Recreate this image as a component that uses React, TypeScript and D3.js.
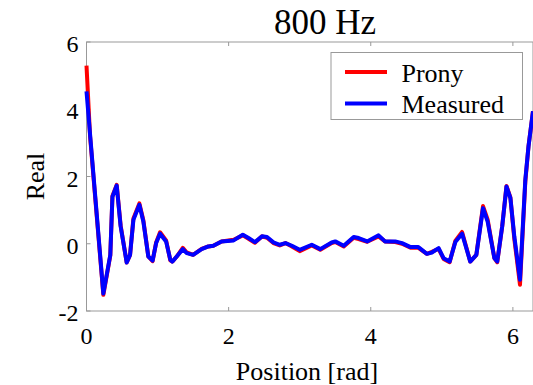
import React from "react";
import * as d3 from "d3";

const positions = [
  0.0, 0.05, 0.237, 0.335, 0.365, 0.425, 0.48, 0.566, 0.613, 0.66, 0.744, 0.8, 0.87, 0.93, 0.98,
  1.035, 1.12, 1.18, 1.21, 1.27, 1.355, 1.41, 1.5, 1.62, 1.715, 1.785, 1.9, 2.07, 2.2, 2.28,
  2.37, 2.47, 2.54, 2.63, 2.72, 2.8, 2.89, 3.0, 3.17, 3.29, 3.45, 3.5, 3.62, 3.76, 3.83, 3.95,
  4.11, 4.2, 4.345, 4.44, 4.56, 4.67, 4.79, 4.86, 4.955, 5.025, 5.11, 5.19, 5.285, 5.4, 5.486,
  5.58, 5.645, 5.74, 5.78, 5.85, 5.91, 5.965, 6.02, 6.1, 6.175, 6.22, 6.283,
];

const measured = [
  4.53, 3.26, -1.48, -0.33, 1.4, 1.73, 0.52, -0.56, -0.33, 0.71, 1.16, 0.66, -0.38, -0.5, 0.02,
  0.3, 0.07, -0.48, -0.53, -0.38, -0.16, -0.28, -0.33, -0.16, -0.08, -0.06, 0.07, 0.1, 0.27, 0.17,
  0.05, 0.22, 0.2, 0.04, -0.03, 0.02, -0.06, -0.18, -0.03, -0.16, 0.04, 0.07, -0.06, 0.2, 0.17, 0.07,
  0.25, 0.07, 0.07, 0.02, -0.1, -0.1, -0.3, -0.26, -0.13, -0.43, -0.53, 0.05, 0.3, -0.53, -0.33,
  1.06, 0.66, -0.43, -0.53, 0.52, 1.7, 1.36, 0.22, -1.07, 1.9, 2.9, 3.94,
];

const prony = [
  5.3, 3.2, -1.52, -0.35, 1.42, 1.75, 0.55, -0.56, -0.33, 0.75, 1.2, 0.7, -0.38, -0.52, 0.04,
  0.34, 0.1, -0.5, -0.53, -0.38, -0.12, -0.26, -0.33, -0.15, -0.08, -0.06, 0.07, 0.12, 0.25, 0.15,
  0.03, 0.22, 0.18, 0.02, -0.05, 0.02, -0.08, -0.22, -0.05, -0.18, 0.02, 0.05, -0.08, 0.18, 0.14, 0.06,
  0.22, 0.07, 0.05, 0.0, -0.12, -0.12, -0.3, -0.24, -0.15, -0.45, -0.55, 0.08, 0.35, -0.53, -0.33,
  1.12, 0.72, -0.43, -0.55, 0.52, 1.72, 1.38, 0.15, -1.22, 1.85, 2.9, 3.94,
];

const xTicks = [0, 2, 4, 6];
const yTicks = [-2, 0, 2, 4, 6];
const seriesNames = ["Prony", "Measured"];
const seriesColors = ["#ff0000", "#0000ff"];

const W = 533;
const H = 385;
const left = 86.5;
const right = 533;
const top = 42;
const bottom = 311;
const font = "'Liberation Serif', 'Times New Roman', serif";
const axisColor = "#999999";

export default function App() {
  const x = d3.scaleLinear().domain([0, 2 * Math.PI]).range([left, right]);
  const y = d3.scaleLinear().domain([-2, 6]).range([bottom, top]);
  const line = d3
    .line<number>()
    .x((_, i) => x(positions[i]))
    .y((d) => y(d));

  const series = [prony, measured];

  return (
    <svg
      width={W}
      height={H}
      style={{ position: "absolute", left: 0, top: 0, background: "#fff" }}
      fontFamily={font}
    >
      <rect x={0} y={0} width={W} height={H} fill="#fff" />
      {/* axes box */}
      <rect
        x={left}
        y={top}
        width={right - left}
        height={bottom - top}
        fill="none"
        stroke={axisColor}
        strokeWidth={1}
      />
      {xTicks.map((t) => (
        <g key={"xt" + t}>
          <line x1={x(t)} x2={x(t)} y1={bottom} y2={bottom - 4} stroke={axisColor} />
          <line x1={x(t)} x2={x(t)} y1={top} y2={top + 4} stroke={axisColor} />
          <text x={x(t)} y={bottom + 33} fontSize={24} textAnchor="middle" fill="#000">
            {t}
          </text>
        </g>
      ))}
      {yTicks.map((t) => (
        <g key={"yt" + t}>
          <line x1={left} x2={left + 4} y1={y(t)} y2={y(t)} stroke={axisColor} />
          <text x={left - 8} y={y(t) + 10} fontSize={24} textAnchor="end" fill="#000">
            {t}
          </text>
        </g>
      ))}
      {/* lines */}
      {series.map((s, k) => (
        <path
          key={"s" + k}
          d={line(s) || ""}
          fill="none"
          stroke={seriesColors[k]}
          strokeWidth={4}
          strokeLinejoin="round"
        />
      ))}
      {/* title and labels */}
      <text x={325} y={34} fontSize={35} textAnchor="middle" fill="#000">
        800 Hz
      </text>
      <text x={307} y={380} fontSize={26} textAnchor="middle" fill="#000">
        Position [rad]
      </text>
      <text
        transform={`translate(44,${(top + bottom) / 2}) rotate(-90)`}
        fontSize={26}
        textAnchor="middle"
        fill="#000"
      >
        Real
      </text>
      {/* legend */}
      <rect x={331} y={52.5} width={191.5} height={67} fill="#fff" stroke={axisColor} strokeWidth={1} />
      {seriesNames.map((n, k) => (
        <g key={"lg" + k}>
          <line
            x1={345}
            x2={387}
            y1={72 + k * 31.5}
            y2={72 + k * 31.5}
            stroke={seriesColors[k]}
            strokeWidth={4}
          />
          <text x={401.5} y={81.5 + k * 31.5} fontSize={26} fill="#000">
            {n}
          </text>
        </g>
      ))}
    </svg>
  );
}
